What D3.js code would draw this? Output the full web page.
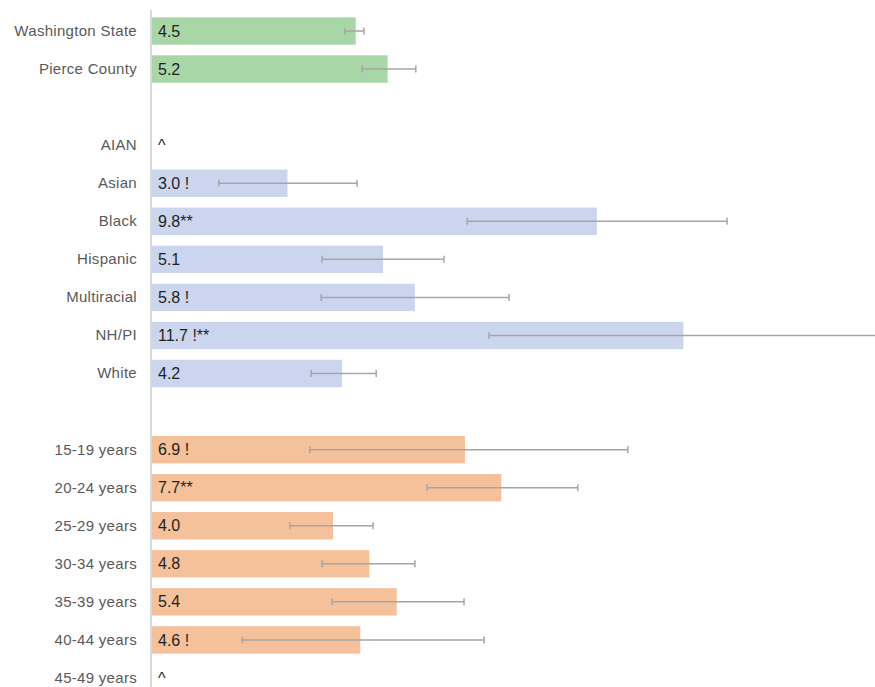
<!DOCTYPE html>
<html>
<head>
<meta charset="utf-8">
<script src="https://cdn.jsdelivr.net/npm/d3@7"></script>
<style>
  body { margin: 0; background: #fff; }
  svg text { font-family: "Liberation Sans", Arial, sans-serif; }
</style>
</head>
<body>
<div id="chart"></div>
<script>
// rows, top to bottom ('' = empty spacer row)
var categories = ['Washington State', 'Pierce County', '',
  'AIAN', 'Asian', 'Black', 'Hispanic', 'Multiracial', 'NH/PI', 'White', '',
  '15-19 years', '20-24 years', '25-29 years', '30-34 years', '35-39 years', '40-44 years', '45-49 years']
var groups = ['total', 'total', null,
  'race', 'race', 'race', 'race', 'race', 'race', 'race', null,
  'age', 'age', 'age', 'age', 'age', 'age', 'age']
var values = [4.5, 5.2, null, null, 3.0, 9.8, 5.1, 5.8, 11.7, 4.2, null, 6.9, 7.7, 4.0, 4.8, 5.4, 4.6, null]
var labels = ['4.5', '5.2', '', '^', '3.0 !', '9.8**', '5.1', '5.8 !', '11.7 !**', '4.2', '',
  '6.9 !', '7.7**', '4.0', '4.8', '5.4', '4.6 !', '^']
var lower = [4.26, 4.64, null, null, 1.49, 6.95, 3.76, 3.74, 7.43, 3.52, null, 3.49, 6.07, 3.05, 3.76, 3.98, 2.0, null]
var upper = [4.68, 5.82, null, null, 4.53, 12.66, 6.44, 7.87, 17.0, 4.95, null, 10.48, 9.38, 4.88, 5.80, 6.88, 7.32, null]

var colors = {total: '#a9d6a7', race: '#cbd5ed', age: '#f5c19b'}

var width = 875, height = 687

var rows = categories.map(function(c, i){
  return {i: i, name: c, group: groups[i], value: values[i], label: labels[i], lo: lower[i], hi: upper[i]}
})

var svg = d3.select('#chart').append('svg')
  .attr('width', width).attr('height', height)

var x = d3.scaleLinear().domain([0, 16]).range([151, 879])
var y = d3.scaleBand().domain(d3.range(categories.length)).range([12, 697])
  .paddingInner(0.28).paddingOuter(0.14)

// bars
svg.selectAll('rect.bar')
  .data(rows.filter(function(d){ return d.value != null }))
  .join('rect')
  .attr('class', 'bar')
  .attr('x', x(0))
  .attr('y', function(d){ return y(d.i) })
  .attr('width', function(d){ return x(d.value) - x(0) })
  .attr('height', y.bandwidth())
  .attr('fill', function(d){ return colors[d.group] })

// axis line
svg.append('line')
  .attr('x1', x(0)).attr('x2', x(0))
  .attr('y1', 10).attr('y2', height)
  .attr('stroke', '#d9d9d9').attr('stroke-width', 2)

// error bars
var eb = svg.selectAll('g.err')
  .data(rows.filter(function(d){ return d.lo != null }))
  .join('g')
  .attr('class', 'err')
  .attr('transform', function(d){ return 'translate(0,' + (y(d.i) + y.bandwidth() / 2) + ')' })
  .attr('stroke', '#a6a6a6').attr('stroke-width', 1.5)

eb.append('line')
  .attr('x1', function(d){ return x(d.lo) }).attr('x2', function(d){ return x(d.hi) })
eb.append('line')
  .attr('x1', function(d){ return x(d.lo) }).attr('x2', function(d){ return x(d.lo) })
  .attr('y1', -3.5).attr('y2', 3.5)
eb.append('line')
  .attr('x1', function(d){ return x(d.hi) }).attr('x2', function(d){ return x(d.hi) })
  .attr('y1', -3.5).attr('y2', 3.5)

// category labels
svg.selectAll('text.cat')
  .data(rows.filter(function(d){ return d.name }))
  .join('text')
  .attr('class', 'cat')
  .attr('x', 137)
  .attr('y', function(d){ return y(d.i) + y.bandwidth() / 2 })
  .attr('dy', '0.33em')
  .attr('text-anchor', 'end')
  .attr('font-size', 15)
  .attr('letter-spacing', 0.3)
  .attr('fill', '#595959')
  .text(function(d){ return d.name })

// value labels
svg.selectAll('text.val')
  .data(rows.filter(function(d){ return d.label }))
  .join('text')
  .attr('class', 'val')
  .attr('x', x(0) + 7)
  .attr('y', function(d){ return y(d.i) + y.bandwidth() / 2 })
  .attr('dy', '0.35em')
  .attr('font-size', 16)
  .attr('fill', '#1f1f1f')
  .text(function(d){ return d.label })
</script>
</body>
</html>
